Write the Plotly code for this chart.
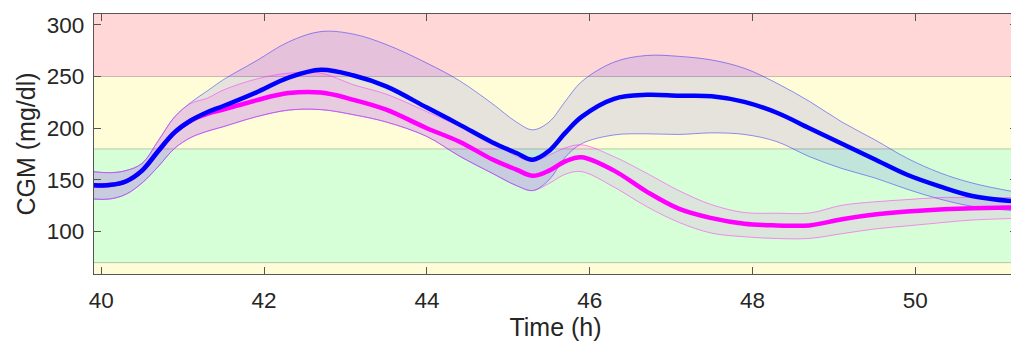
import plotly.graph_objects as go

time_h = [39.9, 40.1, 40.3, 40.5, 40.7, 40.9, 41.1, 41.3, 41.5, 41.9, 42.3, 42.7, 43.1, 43.5,
          44.0, 44.4, 44.8, 45.1, 45.3, 45.5, 45.7, 45.9, 46.3, 46.7, 47.1, 47.5, 47.9, 48.3,
          48.7, 49.1, 49.5, 49.9, 50.3, 50.7, 51.25]

blue_mean = [145, 145, 148.5, 159, 178, 196, 207.5, 215.5, 221.5, 234.5, 249, 256.5, 251, 240.5,
             220, 203.5, 186.5, 176, 169.5, 178, 195.5, 211, 228.5, 232.3, 231.5, 231, 225.5, 215,
             200, 185, 170, 155, 143.8, 134.5, 129]
blue_upper = [158, 157, 159, 166, 188, 211, 225, 236, 247, 265, 283.5, 293.5, 291, 281,
              263, 246, 224, 206, 198.5, 206, 226, 245, 264, 270.4, 269.5, 266, 258, 243.5,
              226, 206, 189, 171, 157, 147, 138]
blue_lower = [131.5, 131.5, 136, 147, 163, 180.5, 191, 197, 201.5, 211, 217.5, 218, 213, 206,
              192, 173, 156.5, 144.5, 139.7, 150, 172, 185, 193.5, 194.6, 194, 195.5, 194, 187,
              172.5, 161, 152, 141, 131.5, 124.5, 120]

mag_mean = [145, 145, 148.5, 159, 178, 196, 207.5, 214, 218, 227, 234, 234.5, 227.5, 218,
            200, 187, 170, 160, 154, 159, 168, 172, 159, 138.7, 122, 113, 107.5, 106,
            106, 112, 116.5, 119.5, 121.5, 122.5, 123.5]
mag_upper = [158, 157, 159, 166, 188, 211, 224, 229, 237, 247.5, 253.3, 253.3, 242, 233,
             216, 202, 187, 173, 168, 174, 181, 184, 172.5, 156.5, 139.5, 126, 118.5, 117.8,
             118, 125.5, 128.8, 131, 133, 133, 133]
mag_lower = [131.5, 131.5, 136, 147, 163, 180.5, 191, 197, 201.5, 211, 217.5, 218, 213, 206,
             192, 173, 156.5, 144.5, 139.7, 146.5, 155.5, 158, 143, 124.2, 108.8, 98.5, 95, 93.3,
             93.4, 98, 102.5, 105.5, 108.5, 111.2, 112.8]

zones = [(59, 70, "rgb(255,253,215)"), (70, 180, "rgb(215,255,215)"),
         (180, 250, "rgb(255,253,215)"), (250, 311, "rgb(255,215,215)")]
zone_lines = [70, 180, 250]

FONT = "Liberation Sans, Arial, sans-serif"

fig = go.Figure()

shapes = []
for y0, y1, col in zones:
    shapes.append(dict(type="rect", xref="paper", yref="y", x0=0, x1=1, y0=y0, y1=y1,
                       fillcolor=col, line=dict(width=0), layer="below"))
for yl in zone_lines:
    shapes.append(dict(type="line", xref="paper", yref="y", x0=0, x1=1, y0=yl, y1=yl,
                       line=dict(color="rgba(0,0,0,0.22)", width=1), layer="below"))

def band(upper, lower, fillcol, linecol):
    fig.add_trace(go.Scatter(x=time_h, y=lower, mode="lines", line=dict(color=linecol, width=1, shape="spline"),
                             hoverinfo="skip", showlegend=False))
    fig.add_trace(go.Scatter(x=time_h, y=upper, mode="lines", line=dict(color=linecol, width=1, shape="spline"),
                             fill="tonexty", fillcolor=fillcol, hoverinfo="skip", showlegend=False))

band(blue_upper, blue_lower, "rgba(0,0,255,0.1)", "rgba(40,40,255,0.5)")
band(mag_upper, mag_lower, "rgba(255,0,255,0.1)", "rgba(255,40,255,0.5)")

fig.add_trace(go.Scatter(x=time_h, y=mag_mean, mode="lines",
                         line=dict(color="#ff00ff", width=4.5, shape="spline"), showlegend=False))
fig.add_trace(go.Scatter(x=time_h, y=blue_mean, mode="lines",
                         line=dict(color="#0000ff", width=4.5, shape="spline"), showlegend=False))

axis_common = dict(showline=True, linecolor="#555555", linewidth=1.2, mirror="ticks",
                   ticks="inside", ticklen=7, tickcolor="#555555", showgrid=False, zeroline=False,
                   automargin=False,
                   tickfont=dict(family=FONT, size=22.5, color="#262626"))

# page body adds an 8px offset, so the figure is sized to fill the rest of the window
fig.update_layout(
    width=1011, height=335,
    margin=dict(l=86, r=2, t=6, b=69),
    paper_bgcolor="white", plot_bgcolor="white",
    shapes=shapes,
    xaxis=dict(range=[39.91, 51.25], tickvals=[40, 42, 44, 46, 48, 50],
               title=dict(text="Time (h)", standoff=4, font=dict(family=FONT, size=25, color="#262626")),
               ticklabelstandoff=6, **axis_common),
    yaxis=dict(range=[59, 310.5], tickvals=[100, 150, 200, 250, 300],
               title=dict(text="CGM (mg/dl)", standoff=4, font=dict(family=FONT, size=25, color="#262626")),
               ticklabelstandoff=4, **axis_common),
)

fig.write_html("out.html")
